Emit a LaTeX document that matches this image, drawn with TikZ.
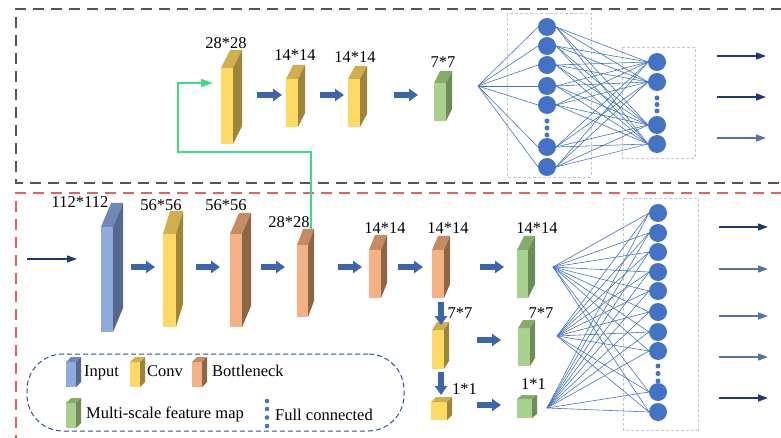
\documentclass[tikz,border=0pt]{standalone}
\usepackage{fontspec}
\setmainfont{Liberation Serif}
\usetikzlibrary{arrows.meta,fit,calc}
\definecolor{inF}{HTML}{8FAADC}\definecolor{inT}{HTML}{7088B8}\definecolor{inS}{HTML}{56688C}
\definecolor{cvF}{HTML}{FFD966}\definecolor{cvT}{HTML}{D1AF4E}\definecolor{cvS}{HTML}{9E8639}
\definecolor{btF}{HTML}{F4B183}\definecolor{btT}{HTML}{C58B62}\definecolor{btS}{HTML}{8C6647}
\definecolor{gnF}{HTML}{A9D18E}\definecolor{gnT}{HTML}{86AC6C}\definecolor{gnS}{HTML}{6C8C59}
\definecolor{blkc}{HTML}{3E64AE}
\definecolor{nc}{HTML}{4472C4}
\definecolor{navy}{HTML}{1F3A70}
\definecolor{navyl}{HTML}{5A72A0}
\definecolor{skipc}{HTML}{3DDC84}
\definecolor{boxg}{HTML}{555555}
\definecolor{boxr}{HTML}{E06262}
\definecolor{legc}{HTML}{2F4F8F}
\tikzset{
  lbl/.style={font=\fontsize{16.5}{18}\selectfont, inner sep=0pt, anchor=base},
  legt/.style={font=\fontsize{16.5}{18}\selectfont, inner sep=0pt, anchor=base west},
  blkarrow/.style={draw=blkc, line width=6pt, -{Triangle[width=12pt,length=9pt]}},
  outarrow/.style={draw=navy, line width=1.3pt, -{Triangle[width=7pt,length=10pt]}},
  neuron/.style={circle, fill=nc, minimum size=18pt, inner sep=0pt, outer sep=0pt},
  dotn/.style={circle, fill=nc, minimum size=5pt, inner sep=0pt},
  fcline/.style={draw=nc, line width=0.6pt},
  graybox/.style={draw=black!22, line width=0.6pt, dash pattern=on 3pt off 2pt},
  skipline/.style={draw=skipc, line width=1.6pt, -{Triangle[width=8pt,length=12pt]}},
}
\newcommand{\cuboid}[8]{%
  \node[fit={(#2,#3) (#4,#5)}, inner sep=0pt, outer sep=0pt, fill=#8F] (#1) {};
  \fill[#8T] (#1.north west) -- (#1.north east) -- ([shift={(#6,-#7)}]#1.north east) -- ([shift={(#6,-#7)}]#1.north west) -- cycle;
  \fill[#8S] (#1.north east) -- (#1.south east) -- ([shift={(#6,-#7)}]#1.south east) -- ([shift={(#6,-#7)}]#1.north east) -- cycle;
}
\newcommand{\blkarr}[4]{%
  \coordinate (#1s) at (#2,#4); \coordinate (#1e) at (#3,#4);
  \draw[blkarrow] (#1s) -- (#1e);
}
\newcommand{\blkdown}[4]{%
  \coordinate (#1s) at (#2,#3); \coordinate (#1e) at (#2,#4);
  \draw[blkarrow] (#1s) -- (#1e);
}
\newcommand{\outarr}[5]{%
  \coordinate (#1s) at (#2,#4); \coordinate (#1e) at (#3,#4);
  \draw[outarrow, draw=#5] (#1s) -- (#1e);
}
\begin{document}
\begin{tikzpicture}[x=1pt,y=-1pt]
\useasboundingbox (0,0) rectangle (781,438);
% frames
\draw[boxg, line width=1.2pt, dash pattern=on 11pt off 7pt] (800,9) -- (16,9) -- (16,183) -- (800,183);
\draw[boxr, line width=1.2pt, dash pattern=on 11pt off 7pt] (800,193) -- (16,193) -- (16,460);
% ---------- top row ----------
\cuboid{tc28}{221}{68}{233}{144}{9}{18}{cv}
\cuboid{tc14a}{286}{79}{298}{127}{7}{14}{cv}
\cuboid{tc14b}{348}{79}{360}{127}{7}{13}{cv}
\cuboid{tg7}{434}{83}{446}{121}{6}{12}{gn}
\node[lbl] (ltc28) at (226,49) {28*28};
\node[lbl] (ltc14a) at (295,61) {14*14};
\node[lbl] (ltc14b) at (355,63) {14*14};
\node[lbl] (ltg7) at (443,68) {7*7};
\blkarr{ta1}{257}{282}{95}
\blkarr{ta2}{320}{344}{95}
\blkarr{ta3}{394}{418}{95}
% top FC
\draw[graybox] (507,13) rectangle (591,177);
\draw[graybox] (622,47) rectangle (695,158);
\coordinate (to) at (478,86);
\foreach \i/\y in {1/27,2/46,3/65,4/86,5/105,6/147,7/167}{\node[neuron] (t\i) at (547,\y) {};}
\foreach \i/\y in {1/121,2/128,3/135}{\node[dotn] (td\i) at (547,\y) {};}
\foreach \j/\y in {1/62,2/82,3/125,4/144}{\node[neuron] (u\j) at (657,\y) {};}
\foreach \j/\y in {1/98,2/104.5,3/111}{\node[dotn] (ud\j) at (657,\y) {};}
\foreach \i in {1,...,7}{\draw[fcline] (to) -- (t\i.west);}
\foreach \i in {1,...,7}{\foreach \j in {1,...,4}{\draw[fcline] (t\i.east) -- (u\j.west);}}
\outarr{to1}{717}{766}{56}{navy}
\outarr{to2}{717}{766}{97}{navy}
\outarr{to3}{717}{766}{138}{navyl}
% skip connection
\coordinate (sk0) at (311,229);
\coordinate (sk1) at (311,152);
\coordinate (sk2) at (178,152);
\coordinate (sk3) at (178,83);
\coordinate (sk4) at (213,83);
\draw[skipline] (sk0) -- (sk1) -- (sk2) -- (sk3) -- (sk4);
% ---------- bottom row ----------
\outarr{inarr}{27}{77}{259}{navy}
\cuboid{inp}{101}{227}{113}{332}{10}{24}{in}
\cuboid{c56}{163}{234}{176}{327}{7}{23}{cv}
\cuboid{b56}{230}{234}{242}{327}{9}{21}{bt}
\cuboid{b28}{297}{245}{308}{317}{6}{16}{bt}
\cuboid{b14a}{369}{250}{381}{298}{6}{15}{bt}
\cuboid{b14b}{432}{250}{444}{298}{6}{14}{bt}
\cuboid{g14}{517}{250}{528}{298}{7}{14}{gn}
\cuboid{c7}{432}{330}{444}{369}{5}{8}{cv}
\cuboid{g7}{518}{328}{530}{366}{5}{8}{gn}
\cuboid{c1}{431}{402}{447}{420}{5}{5}{cv}
\cuboid{g1}{517}{399}{532}{418}{5}{4}{gn}
\node[lbl] (linp) at (80,208) {112*112};
\node[lbl] (lc56) at (161,211) {56*56};
\node[lbl] (lb56) at (226,211) {56*56};
\node[lbl] (lb28) at (289,228) {28*28};
\node[lbl] (lb14a) at (385,234) {14*14};
\node[lbl] (lb14b) at (448,234) {14*14};
\node[lbl] (lg14) at (537,234) {14*14};
\node[lbl] (lc7) at (460,318) {7*7};
\node[lbl] (lg7) at (541,318) {7*7};
\node[lbl] (lc1) at (464.5,394) {1*1};
\node[lbl] (lg1) at (533.5,389) {1*1};
\blkarr{ba1}{131}{155}{267}
\blkarr{ba2}{196}{220}{267}
\blkarr{ba3}{261}{285}{267}
\blkarr{ba4}{338}{362}{267}
\blkarr{ba5}{398}{423}{267}
\blkarr{ba6}{480}{504}{267}
\blkarr{ba7}{477}{501}{340}
\blkarr{ba8}{477}{501}{405}
\blkdown{bd1}{441}{302}{325}
\blkdown{bd2}{441}{372}{395}
% bottom FC
\draw[graybox] (623,198) rectangle (698,430);
\coordinate (o1) at (553,267);
\coordinate (o2) at (557,336);
\coordinate (o3) at (547,408);
\foreach \i/\y in {1/213,2/233,3/252,4/272,5/291,6/312,7/332,8/351,9/392,10/412}{\node[neuron] (v\i) at (658,\y) {};}
\foreach \i/\y in {1/366,2/373.5,3/381}{\node[dotn] (vd\i) at (658,\y) {};}
\foreach \o in {o1,o2,o3}{\foreach \j in {1,...,10}{\draw[fcline] (\o) -- (v\j.west);}}
\outarr{bo1}{719}{768}{227}{navy}
\outarr{bo2}{719}{768}{269}{navyl}
\outarr{bo3}{719}{768}{316}{navyl}
\outarr{bo4}{719}{768}{357}{navyl}
\outarr{bo5}{719}{768}{398}{navy}
% ---------- legend ----------
\node[draw=legc, line width=1pt, dash pattern=on 5pt off 3pt, rounded corners=36pt, fit={(27,354) (404,431)}, inner sep=0pt] (legend) {};
\cuboid{lin}{66}{362}{76}{387}{5}{5}{in}
\cuboid{lcv}{130}{362}{140}{387}{5}{5}{cv}
\cuboid{lbt}{192}{362}{202}{387}{5}{5}{bt}
\cuboid{lgn}{66}{403}{76}{428}{5}{5}{gn}
\node[legt] (tin) at (84,376) {Input};
\node[legt] (tcv) at (147,376) {Conv};
\node[legt] (tbt) at (212,376) {Bottleneck};
\node[legt] (tgn) at (86,418) {Multi-scale feature map};
\foreach \i/\y in {1/401,2/409,3/417.5,4/426}{\node[dotn, minimum size=4.6pt] (ld\i) at (267,\y) {};}
\node[legt] (tfc) at (275,420) {Full connected};
\end{tikzpicture}
\end{document}
